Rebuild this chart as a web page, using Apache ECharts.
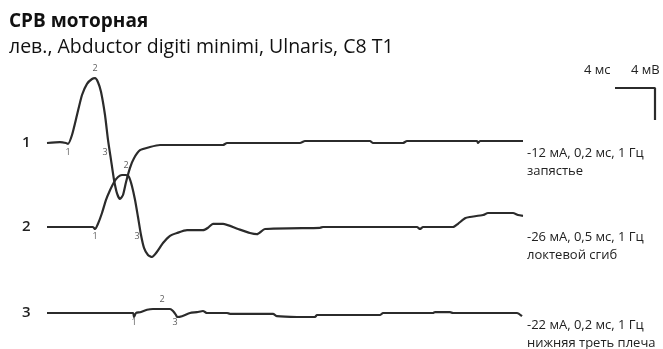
<!DOCTYPE html>
<html><head><meta charset="utf-8">
<script src="https://cdn.jsdelivr.net/npm/echarts@6/dist/echarts.min.js"></script>
<style>html,body{margin:0;padding:0;background:#fff}#c{width:663px;height:349px}</style>
</head><body><div id="c"></div><script>
// ---- text ----
const titleText = 'СРВ моторная';
const subtitleText = 'лев., Abductor digiti minimi, Ulnaris, C8 T1';
const traceNames = ['1', '2', '3'];
const stimText = ['-12 мА, 0,2 мс, 1 Гц', '-26 мА, 0,5 мс, 1 Гц', '-22 мА, 0,2 мс, 1 Гц'];
const siteText = ['запястье', 'локтевой сгиб', 'нижняя треть плеча'];
const scaleTimeMs = 4, scaleAmpMv = 4;
const scaleTimeLabel = '4 мс', scaleAmpLabel = '4 мВ';

// ---- data: [time ms, amplitude mV] ----
const trace1 = [[0,0],[1.3,0.1],[1.9,0],[2.1,-0.1],[2.5,1.0],[3.0,3.5],[3.5,6.0],[4.0,7.4],[4.5,8.0],[4.8,8.1],
  [5.1,7.6],[5.4,6.4],[5.8,3.5],[6.1,0.4],[6.4,-2.1],[6.7,-4.6],[7.0,-6.3],[7.3,-7.0],[7.6,-6.5],[7.9,-4.9],
  [8.3,-3.1],[8.7,-1.9],[9.3,-0.9],[10.3,-0.5],[11.3,-0.25],[17.6,-0.25],[18.0,0],[25.3,0],[25.8,0.25],
  [32.3,0.25],[32.6,0],[35.6,0],[36.0,0.25],[43.0,0.25],[43.1,0],[43.3,0.25],[47.6,0.25]];
const trace2 = [[0,0],[4.6,0],[4.8,-0.25],[5.1,0.4],[5.5,1.75],[5.9,3.4],[6.3,4.6],[6.7,5.6],[7.1,6.25],[7.5,6.5],
  [7.9,6.5],[8.2,6.25],[8.5,5.1],[8.8,3.4],[9.1,1.25],[9.4,-1.0],[9.7,-2.6],[10.1,-3.5],[10.5,-3.75],[11.0,-3.1],
  [11.6,-2.0],[12.3,-1.1],[13.0,-0.75],[14.0,-0.4],[15.6,-0.4],[16.1,-0.1],[16.6,0.4],[17.6,0.4],[19.1,-0.25],
  [20.3,-0.75],[21.0,-0.9],[21.8,-0.25],[27.3,-0.1],[27.6,0],[37.0,0],[37.3,-0.25],[37.6,0],[40.6,0],[41.1,0.4],
  [41.8,1.1],[42.3,1.25],[43.6,1.5],[44.1,1.75],[46.6,1.75],[47.1,1.5],[47.6,1.4]];
const trace3 = [[0,0],[8.6,0],[8.7,-0.5],[8.9,0],[9.3,0.1],[10.0,0.4],[10.6,0.5],[12.3,0.5],[12.6,0.25],[12.9,-0.25],
  [13.0,-0.5],[13.5,-0.4],[14.3,0],[15.0,0.1],[15.6,0.25],[16.0,0],[18.0,0],[18.3,-0.1],[22.6,-0.1],[23.0,-0.4],
  [25.0,-0.5],[26.8,-0.5],[27.0,-0.25],[33.3,-0.25],[33.6,0],[38.6,0],[38.8,0.1],[40.3,0.1],[40.6,0],[47.0,0],[47.5,-0.4]];
// markers: [time, amplitude, label]
const markers1 = [[2.1,0,'1'],[4.8,8.1,'2'],[6.0,0,'3']];
const markers2 = [[4.8,0,'1'],[7.9,6.5,'2'],[9.2,0,'3']];
const markers3 = [[8.7,0,'1'],[11.5,0.5,'2'],[13.0,0,'3']];

// ---- layout (mV offsets from top edge, 8 px per mV, 10 px per ms) ----
const traces = [trace1, trace2, trace3];
const markers = [markers1, markers2, markers3];
const baselineOffsets = [-17.875, -28.375, -39.125];
const scaleAnchor = [60.8, -11];
const lineColor = '#2b2b2b';
const annFont = '13px "Open Sans"';

const series = [];
traces.forEach((tr, i) => {
  series.push({
    type: 'line', data: tr.map(p => [p[0], p[1] + baselineOffsets[i]]),
    symbol: 'none', smooth: 0.2, lineStyle: { color: lineColor, width: 2.2 }, silent: true, z: 3
  });
  series.push({
    type: 'scatter', symbolSize: 0, silent: true, z: 4,
    data: markers[i].map(m => ({
      value: [m[0], m[1] + baselineOffsets[i]],
      label: { show: true, formatter: m[2], position: m[2] === '2' ? 'top' : 'bottom', distance: 5,
        offset: m[2] === '3' ? [-2, 0] : [0, 0], fontSize: 9, color: '#333', fontFamily: 'Open Sans' }
    }))
  });
});
series.push({
  type: 'line', symbol: 'none', silent: true,
  data: [[scaleAnchor[0] - scaleTimeMs, scaleAnchor[1]], scaleAnchor, [scaleAnchor[0], scaleAnchor[1] - scaleAmpMv]],
  lineStyle: { color: lineColor, width: 2.2 }
});

const graphics = [];
traceNames.forEach((n, i) => {
  graphics.push({ type: 'text', left: 22, top: [135, 219, 305][i],
    style: { text: n, font: '600 15px "Open Sans"', fill: '#222' } });
  graphics.push({ type: 'text', left: 527, top: [144, 228, 316][i],
    style: { text: stimText[i] + '\n' + siteText[i], font: annFont, fill: '#222', lineHeight: 18 } });
});
graphics.push({ type: 'text', left: 584, top: 64, style: { text: scaleTimeLabel, font: annFont, fill: '#222' } });
graphics.push({ type: 'text', left: 631, top: 64, style: { text: scaleAmpLabel, font: annFont, fill: '#222' } });

const chart = echarts.init(document.getElementById('c'));
chart.setOption({
  animation: false,
  title: {
    text: titleText, subtext: subtitleText, left: 4, top: 7, itemGap: 6,
    textStyle: { fontFamily: 'Open Sans', fontWeight: 'bold', fontSize: 19, color: '#111' },
    subtextStyle: { fontFamily: 'Open Sans', fontSize: 19.5, color: '#111' }
  },
  grid: { left: 47, right: 0, top: 0, bottom: 0 },
  xAxis: { type: 'value', min: 0, max: 61.6, show: false },
  yAxis: { type: 'value', min: -43.625, max: 0, show: false },
  series: series,
  graphic: graphics
});
</script></body></html>
